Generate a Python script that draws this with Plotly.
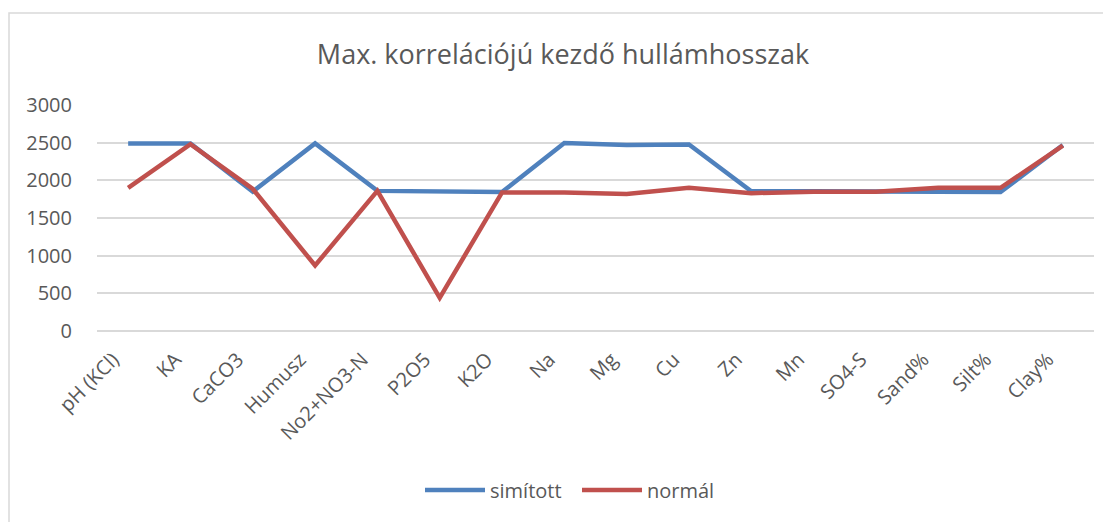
import plotly.graph_objects as go

categories = ["pH (KCl)", "KA", "CaCO3", "Humusz", "No2+NO3-N", "P2O5", "K2O", "Na",
              "Mg", "Cu", "Zn", "Mn", "SO4-S", "Sand%", "Silt%", "Clay%"]
simitott = [2490, 2490, 1850, 2490, 1860, 1850, 1845, 2495, 2470, 2475, 1855, 1855, 1850, 1845, 1845, 2470]
normal = [1900, 2480, 1885, 870, 1860, 440, 1840, 1840, 1820, 1900, 1830, 1850, 1850, 1900, 1900, 2460]
y_ticks = [0, 500, 1000, 1500, 2000, 2500, 3000]

FONT = "Open Sans"
GRAY = "#595959"

fig = go.Figure()
fig.add_trace(go.Scatter(x=categories, y=simitott, name="simított", mode="lines",
                         line=dict(color="#4f81bd", width=4.5)))
fig.add_trace(go.Scatter(x=categories, y=normal, name="normál", mode="lines",
                         line=dict(color="#c0504d", width=4.5)))

# page is drawn with an 8px body offset; positions below are reference pixels
OFF = 8
W, H = 1111, 522
L, T = 97 - OFF, 105 - OFF
pw, ph = 997, 226
R = W - L - pw
B = H - T - ph

def px_x(x):
    return (x - OFF - L) / pw

def px_y(y):
    return (T + ph - (y - OFF)) / ph

fig.update_layout(
    width=W, height=H,
    margin=dict(l=L, r=R, t=T, b=B, autoexpand=False),
    paper_bgcolor="white", plot_bgcolor="white",
    font=dict(family=FONT, color=GRAY, size=20),
    title=dict(text="Max. korrelációjú kezdő hullámhosszak", x=(563 - OFF) / W, xref="container",
               xanchor="center", y=1 - (55 - OFF) / H, yref="container", yanchor="middle",
               font=dict(family=FONT, size=27, color=GRAY)),
    showlegend=True,
    legend=dict(orientation="h", x=(420 - OFF) / W, xanchor="left", xref="container",
                y=1 - (490 - OFF) / H, yanchor="middle", yref="container",
                itemwidth=60, entrywidth=82,
                font=dict(size=20, color=GRAY)),
    xaxis=dict(type="category", range=[-0.5, 15.5], showgrid=False, showline=False,
               tickangle=-45, ticks="outside", ticklen=1, tickcolor="rgba(0,0,0,0)",
               ticklabelshift=-15, ticklabelstandoff=7,
               tickfont=dict(size=20, color=GRAY), zeroline=False),
    yaxis=dict(range=[0, 3000], tickvals=y_ticks, showgrid=True, gridcolor="#d9d9d9",
               gridwidth=1.5, zeroline=True, zerolinecolor="#d9d9d9", zerolinewidth=1.5,
               showline=False, ticks="outside", ticklen=20, tickcolor="rgba(0,0,0,0)",
               tickfont=dict(size=20, color=GRAY)),
    shapes=[dict(type="rect", xref="paper", yref="paper",
                 x0=px_x(9), x1=px_x(1125), y0=px_y(540), y1=px_y(13),
                 line=dict(color="#d9d9d9", width=1.5), fillcolor="rgba(0,0,0,0)",
                 layer="below")],
)

fig.write_html("out.html")
